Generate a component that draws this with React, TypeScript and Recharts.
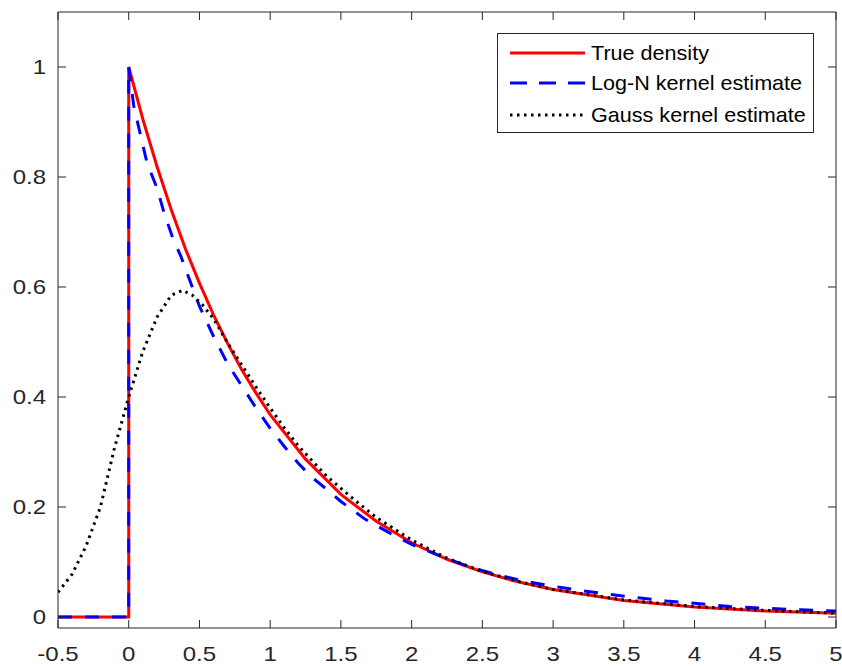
import React from 'react';
import { LineChart, Line, XAxis, YAxis } from 'recharts';

const trueX = [-0.5, 0, 0, 0.1, 0.2, 0.3, 0.4, 0.5, 0.6, 0.7, 0.8, 0.9, 1.0, 1.25, 1.5, 1.75, 2.0, 2.25, 2.5, 2.75, 3.0, 3.5, 4.0, 4.5, 5.0];
const trueY = [0, 0, 1, 0.905, 0.819, 0.741, 0.67, 0.607, 0.549, 0.497, 0.449, 0.407, 0.368, 0.287, 0.223, 0.174, 0.135, 0.105, 0.082, 0.064, 0.05, 0.03, 0.018, 0.011, 0.0067];

const logNX = [-0.5, 0, 0, 0.035, 0.08, 0.13, 0.2, 0.25, 0.31, 0.37, 0.43, 0.5, 0.6, 0.7, 0.8, 0.9, 1.0, 1.1, 1.2, 1.3, 1.4, 1.5, 1.67, 1.85, 2.0, 2.2, 2.4, 2.6, 2.8, 3.0, 3.2, 3.4, 3.6, 3.8, 4.0, 4.25, 4.5, 4.75, 5.0];
const logNY = [0, 0, 1, 0.93, 0.88, 0.825, 0.78, 0.735, 0.69, 0.655, 0.613, 0.565, 0.51, 0.46, 0.42, 0.38, 0.343, 0.31, 0.279, 0.253, 0.232, 0.21, 0.178, 0.152, 0.132, 0.111, 0.092, 0.077, 0.065, 0.056, 0.048, 0.041, 0.035, 0.029, 0.025, 0.019, 0.0158, 0.013, 0.011];

const gaussX = [-0.5, -0.4, -0.3, -0.2, -0.1, 0, 0.1, 0.2, 0.3, 0.38, 0.45, 0.52, 0.6, 0.7, 0.8, 0.9, 1.0, 1.1, 1.2, 1.3, 1.4, 1.5, 1.6, 1.75, 2.0, 2.25, 2.5, 2.75, 3.0, 3.5, 4.0, 4.5, 5.0];
const gaussY = [0.045, 0.078, 0.13, 0.2, 0.308, 0.4, 0.483, 0.545, 0.585, 0.594, 0.585, 0.568, 0.542, 0.498, 0.458, 0.418, 0.38, 0.344, 0.311, 0.283, 0.256, 0.234, 0.212, 0.181, 0.14, 0.107, 0.083, 0.065, 0.05, 0.031, 0.019, 0.012, 0.007];

const xTicks = [-0.5, 0, 0.5, 1, 1.5, 2, 2.5, 3, 3.5, 4, 4.5, 5];
const yTicks = [0, 0.2, 0.4, 0.6, 0.8, 1];

const seriesNames = ['True density', 'Log-N kernel estimate', 'Gauss kernel estimate'];

const toPts = (xs: number[], ys: number[]) => xs.map((x, i) => ({ x, y: ys[i] }));
const trueData = toPts(trueX, trueY);
const logNData = toPts(logNX, logNY);
const gaussData = toPts(gaussX, gaussY);

const AX = '#262626';
const FONT = 'Liberation Sans, Arial, Helvetica, sans-serif';
const TL = 8;

const BottomTick = (p: any) => (
  <g>
    <line x1={p.x} y1={p.y} x2={p.x} y2={p.y - TL} stroke={AX} strokeWidth={1} />
    <text x={p.x} y={p.y + 33} textAnchor="middle" fill={AX} fontSize={20} fontFamily={FONT}
      transform={`translate(${p.x},0) scale(1.2,1) translate(${-p.x},0)`}>
      {String(p.payload.value)}
    </text>
  </g>
);
const TopTick = (p: any) => (
  <line x1={p.x} y1={p.y} x2={p.x} y2={p.y + TL} stroke={AX} strokeWidth={1} />
);
const LeftTick = (p: any) => (
  <g>
    <line x1={p.x} y1={p.y} x2={p.x + TL} y2={p.y} stroke={AX} strokeWidth={1} />
    <text x={p.x - 12} y={p.y + 7} textAnchor="end" fill={AX} fontSize={20} fontFamily={FONT}
      transform={`translate(${p.x - 12},0) scale(1.2,1) translate(${-(p.x - 12)},0)`}>
      {String(p.payload.value)}
    </text>
  </g>
);
const RightTick = (p: any) => (
  <line x1={p.x} y1={p.y} x2={p.x - TL} y2={p.y} stroke={AX} strokeWidth={1} />
);

const LegendBox = () => (
  <svg width={318} height={101} style={{ display: 'block' }}>
    <rect x={0.5} y={0.5} width={316} height={99} fill="#fff" stroke={AX} strokeWidth={1} />
    <line x1={13} y1={20} x2={88} y2={20} stroke="#ff0000" strokeWidth={3} />
    <line x1={13} y1={50} x2={88} y2={50} stroke="#0000ff" strokeWidth={3} strokeDasharray="17 12" />
    <line x1={13} y1={82} x2={88} y2={82} stroke="#000" strokeWidth={3} strokeDasharray="2.5 4.5" />
    {seriesNames.map((n, i) => (
      <text key={n} x={94} y={[27, 57, 89][i]} fontSize={20} fill="#000" fontFamily={FONT}
        transform={`translate(94,0) scale(1.08,1) translate(-94,0)`}>{n}</text>
    ))}
  </svg>
);

export default function App() {
  return (
    <div style={{ position: 'absolute', left: 0, top: 0, width: 842, height: 666, background: '#fff' }}>
      <LineChart width={842} height={666} margin={{ top: 11, right: 5, left: 0, bottom: 0 }}>
        <XAxis xAxisId="b" dataKey="x" type="number" domain={[-0.5, 5]} ticks={xTicks} allowDataOverflow
          height={38} tickSize={0} tickMargin={0} tickLine={false} stroke={AX} tick={<BottomTick />} interval={0} />
        <XAxis xAxisId="t" orientation="top" dataKey="x" type="number" domain={[-0.5, 5]} ticks={xTicks} allowDataOverflow
          height={1} tickSize={0} tickMargin={0} tickLine={false} stroke={AX} tick={<TopTick />} interval={0} />
        <YAxis yAxisId="l" type="number" domain={[-0.02, 1.1]} ticks={yTicks} allowDataOverflow width={58}
          tickSize={0} tickMargin={0} tickLine={false} stroke={AX} tick={<LeftTick />} interval={0} />
        <YAxis yAxisId="r" orientation="right" type="number" domain={[-0.02, 1.1]} ticks={yTicks} allowDataOverflow width={1}
          tickSize={0} tickMargin={0} tickLine={false} stroke={AX} tick={<RightTick />} interval={0} />
        <Line xAxisId="b" yAxisId="l" data={trueData} dataKey="y" type="linear" stroke="#ff0000" strokeWidth={3}
          dot={false} isAnimationActive={false} name={seriesNames[0]} />
        <Line xAxisId="b" yAxisId="l" data={logNData} dataKey="y" type="linear" stroke="#0000ff" strokeWidth={3}
          strokeDasharray="14 13" dot={false} isAnimationActive={false} name={seriesNames[1]} />
        <Line xAxisId="b" yAxisId="l" data={gaussData} dataKey="y" type="linear" stroke="#000" strokeWidth={3}
          strokeDasharray="2.5 4.5" dot={false} isAnimationActive={false} name={seriesNames[2]} />
      </LineChart>
      <div style={{ position: 'absolute', left: 497, top: 33 }}>
        <LegendBox />
      </div>
    </div>
  );
}
